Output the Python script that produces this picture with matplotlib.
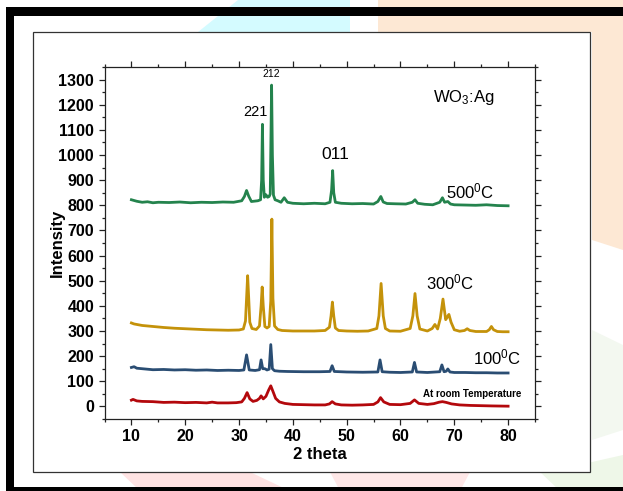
import matplotlib
matplotlib.use("Agg")
import matplotlib.pyplot as plt
from matplotlib.patches import Rectangle, Polygon

plt.rcParams['font.family'] = ['Liberation Sans', 'DejaVu Sans']
plt.rcParams['mathtext.fontset'] = 'custom'
plt.rcParams['mathtext.rm'] = 'Liberation Sans'
plt.rcParams['mathtext.it'] = 'Liberation Sans:italic'
plt.rcParams['mathtext.bf'] = 'Liberation Sans:bold'
plt.rcParams['mathtext.default'] = 'regular'

# ---------------- data ----------------
x_500 = [10, 11, 12, 13, 14, 15, 17, 19, 21, 23, 25, 27, 29, 30.5, 31.0, 31.4, 31.8, 32.3,
         33.5, 34.0, 34.2, 34.35, 34.5, 34.7, 35.0, 35.3, 35.6, 35.8, 35.95, 36.05, 36.2,
         36.4, 36.7, 37.2, 37.8, 38.4, 39.0, 40, 42, 44, 46, 46.9, 47.2, 47.4, 47.6, 47.9,
         49, 51, 53, 55, 55.8, 56.35, 56.8, 57.5, 59, 61, 62.2, 62.7, 63.2, 64.5, 66, 67.3,
         67.8, 68.2, 68.8, 69.3, 70, 72, 74, 76, 78, 80]
y_500 = [822, 816, 812, 814, 810, 812, 811, 813, 810, 812, 811, 813, 812, 818, 835, 859, 836, 815,
         818, 822, 900, 1122, 900, 832, 842, 832, 835, 845, 1100, 1278, 1000,
         840, 822, 818, 812, 830, 812, 808, 806, 808, 806, 812, 860, 938, 850, 812,
         808, 806, 807, 805, 815, 835, 813, 807, 806, 805, 812, 822, 808, 804, 802, 812,
         830, 812, 815, 805, 802, 801, 800, 802, 799, 798]

x_300 = [10, 10.5, 11, 12, 14, 16, 18, 20, 22, 24, 26, 28, 30, 30.8, 31.2, 31.4, 31.6, 31.8,
         32.0, 32.4, 33.2, 33.8, 34.1, 34.3, 34.5, 34.8, 35.2, 35.6, 35.9, 36.1, 36.3, 36.6,
         37.2, 38, 40, 42, 44, 46, 46.8, 47.1, 47.35, 47.6, 47.9, 48.5, 50, 52, 54, 55.6,
         56.0, 56.4, 56.8, 57.2, 58, 60, 61.8, 62.3, 62.7, 63.1, 63.6, 65, 65.9, 66.4, 66.9,
         67.4, 67.9, 68.4, 68.7, 69.0, 69.4, 70, 71, 71.9, 72.4, 72.9, 74, 76, 76.5, 76.9,
         77.3, 78, 79, 80]
y_300 = [332, 328, 326, 322, 318, 314, 311, 309, 307, 305, 304, 303, 304, 308, 340, 430, 520, 430,
         335, 310, 306, 320, 400, 475, 400, 318, 312, 318, 420, 745, 430, 320,
         306, 302, 300, 300, 300, 302, 315, 360, 415, 360, 312, 302, 300, 299, 300, 310,
         360, 489, 360, 310, 300, 299, 310, 360, 449, 360, 308, 300, 310, 326, 308,
         350, 427, 345, 355, 366, 335, 305, 299, 302, 309, 302, 298, 298, 305, 318,
         305, 298, 297, 297]

x_100 = [10, 10.5, 11, 12, 14, 16, 18, 20, 22, 24, 26, 28, 30, 30.9, 31.4, 31.9, 33, 33.8,
         34.1, 34.4, 34.8, 35.2, 35.6, 35.9, 36.2, 36.6, 37.5, 39, 42, 45, 46.9, 47.3, 47.7,
         50, 53, 55.8, 56.2, 56.6, 58, 60, 62.2, 62.6, 63.0, 65, 67.3, 67.7, 68.1, 68.5,
         68.8, 69.2, 70, 72, 74, 76, 78, 80]
y_100 = [155, 158, 152, 150, 146, 147, 145, 146, 144, 145, 143, 144, 143, 145, 205, 145, 143, 146,
         185, 150, 150, 145, 148, 246, 150, 142, 140, 139, 138, 138, 139, 162, 139,
         137, 136, 137, 185, 138, 136, 135, 137, 175, 137, 135, 138, 165, 138, 140,
         149, 137, 135, 135, 134, 134, 133, 133]

x_rt = [10, 10.3, 11, 12, 14, 16, 18, 20, 22, 24, 25, 26, 28, 29.5, 30.5, 31.0, 31.5, 32.0,
        32.6, 33.3, 33.8, 34.1, 34.5, 35.0, 35.5, 35.9, 36.3, 36.8, 37.5, 38.5, 40, 42, 44,
        46, 46.8, 47.3, 47.9, 49, 51, 53, 55, 55.8, 56.3, 56.9, 58, 60, 61.8, 62.6, 63.4,
        65, 66.2, 67.2, 67.8, 68.5, 69.5, 71, 73, 75, 77, 80]
y_rt = [25, 28, 22, 20, 19, 16, 17, 15, 16, 14, 17, 14, 14, 15, 18, 32, 55, 30,
        20, 24, 32, 42, 30, 40, 65, 82, 60, 32, 18, 12, 8, 7, 6,
        6, 10, 19, 10, 6, 5, 6, 8, 18, 35, 18, 8, 7, 12, 26, 12,
        8, 11, 17, 19, 16, 10, 6, 4, 3, 2, 1]

x_ticks = [10, 20, 30, 40, 50, 60, 70, 80]
y_ticks = [0, 100, 200, 300, 400, 500, 600, 700, 800, 900, 1000, 1100, 1200, 1300]

series = [
    (x_rt, y_rt, '#b3080c'),
    (x_100, y_100, '#2a4d73'),
    (x_300, y_300, '#c4920a'),
    (x_500, y_500, '#24834d'),
]

# ---------------- figure ----------------
W, H = 623, 491
fig = plt.figure(figsize=(W / 100, H / 100), dpi=100)
fig.patch.set_facecolor('white')

def px(x0, y0, w, h):
    return (x0 / W, 1 - (y0 + h) / H, w / W, h / H)

# faint watermark shapes in the background
def poly(pts, color):
    fig.patches.append(Polygon([(x / W, 1 - y / H) for x, y in pts], closed=True,
                               transform=fig.transFigure, facecolor=color,
                               edgecolor='none', zorder=0))

poly([(238, 0), (350, 0), (350, 32), (198, 32)], '#d4fbff')
poly([(378, 0), (623, 0), (623, 250), (592, 240), (592, 32), (378, 32)], '#fde8d4')
poly([(120, 472), (250, 472), (290, 491), (140, 491)], '#ffe3e3')
poly([(330, 472), (470, 472), (460, 491), (340, 491)], '#ffe8e8')
poly([(540, 472), (592, 462), (623, 455), (623, 491), (560, 491)], '#eef7e8')
poly([(592, 330), (623, 345), (623, 430), (592, 440)], '#f3f8f0')

# inner thin frame
fig.patches.append(Rectangle((33 / W, 1 - 472 / H), (590 - 33) / W, (472 - 32) / H,
                             transform=fig.transFigure, facecolor='white',
                             edgecolor='#333333', linewidth=0.9, zorder=1))
# thick outer border lines
fig.patches.append(Rectangle((6 / W, 1 - 15.5 / H), (623 - 6) / W, 8 / H,
                             transform=fig.transFigure, facecolor='black',
                             edgecolor='none', zorder=2))
fig.patches.append(Rectangle((6 / W, 0), 8 / W, (491 - 8) / H,
                             transform=fig.transFigure, facecolor='black',
                             edgecolor='none', zorder=2))
fig.patches.append(Rectangle((6 / W, 0), (623 - 6) / W, 4 / H,
                             transform=fig.transFigure, facecolor='black',
                             edgecolor='none', zorder=2))

ax = fig.add_axes(px(104.5, 67, 535 - 104.5, 419 - 67))
ax.set_facecolor('none')
ax.set_zorder(3)

for xs, ys, c in series:
    ax.plot(xs, ys, color=c, linewidth=2.0, solid_joinstyle='round')

ax.set_xlim(5, 85)
ax.set_ylim(-50, 1350)
ax.set_xticks(x_ticks)
ax.set_xticks([v + 5 for v in [0] + x_ticks], minor=True)
ax.set_yticks(y_ticks)
ax.set_yticks([v - 50 for v in y_ticks] + [1350], minor=True)
ax.tick_params(which='both', direction='out', top=True, right=True,
               labeltop=False, labelright=False, color='#222222', width=0.9)
ax.tick_params(which='major', length=4.5, pad=3)
ax.tick_params(which='minor', length=2.5)
for s in ax.spines.values():
    s.set_linewidth(0.9)
    s.set_color('#222222')

for lab in ax.get_xticklabels() + ax.get_yticklabels():
    lab.set_fontweight('bold')
    lab.set_fontsize(11.5)

ax.set_xlabel('2 theta', fontsize=12, fontweight='bold', labelpad=2)
ax.set_ylabel('Intensity', fontsize=12, fontweight='bold')
ax.yaxis.set_label_coords(-0.092, 0.5)

# annotations
ax.text(36.0, 1322, '212', fontsize=7.5, ha='center', va='center')
ax.text(33.0, 1170, '221', fontsize=10.5, ha='center', va='center')
ax.text(47.9, 1002, '011', fontsize=12.5, ha='center', va='center')
ax.text(71.8, 1230, 'WO$_3$:Ag', fontsize=12, ha='center', va='center')
ax.text(73.0, 857, '500$^0$C', fontsize=12, ha='center', va='center')
ax.text(69.3, 495, '300$^0$C', fontsize=12, ha='center', va='center')
ax.text(77.9, 194, '100$^0$C', fontsize=12, ha='center', va='center')
ax.text(73.3, 50, 'At room Temperature', fontsize=7, fontweight='bold',
        ha='center', va='center')

fig.savefig('out.png', dpi=100)
